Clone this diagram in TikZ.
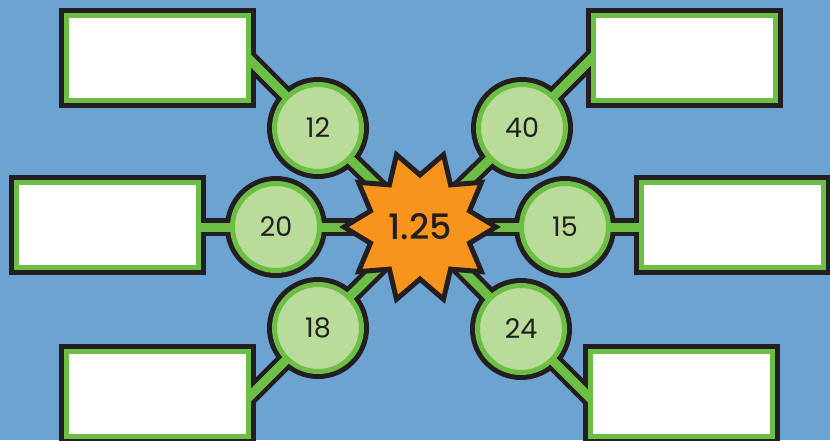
\documentclass[tikz,border=0pt]{standalone}
\usepackage{fontspec}
\newfontfamily\numfont{Poppins}
\newfontfamily\burstfont{Poppins Medium}
\usetikzlibrary{calc,shapes.geometric}

\definecolor{bgblue}{HTML}{6CA3D1}
\definecolor{ink}{HTML}{231F20}
\definecolor{leaf}{HTML}{6DBE45}
\definecolor{pale}{HTML}{B9DC9A}
\definecolor{burst}{HTML}{F7941D}

\tikzset{
  panelback/.style={rectangle, inner sep=0pt, minimum width=197pt, minimum height=100pt, fill=ink},
  panelface/.style={rectangle, inner sep=0pt, minimum width=182pt, minimum height=85pt, fill=white, draw=leaf, line width=5pt},
  discback/.style={circle, inner sep=0pt, minimum size=102pt, fill=ink},
  discface/.style={circle, inner sep=0pt, minimum size=87pt, fill=pale, draw=leaf, line width=5pt,
                   font=\numfont\fontsize{27}{27}\selectfont, text=ink},
  linkout/.style={draw=ink, line width=18pt},
  linkin/.style={draw=leaf, line width=9pt},
  burststar/.style={star, star points=10, star point ratio=1.46, minimum size=152pt, inner sep=0pt,
                    shape border rotate=18, fill=burst, draw=ink, line width=5pt, miter limit=10,
                    font=\burstfont\fontsize{35}{35}\selectfont, text=ink}
}

\begin{document}
\begin{tikzpicture}[x=1pt, y=-1pt]
  % canvas
  \fill[bgblue] (0,0) rectangle (830,440);
  \useasboundingbox (0,0) rectangle (830,440);
  \clip (0,0) rectangle (830,440);

  % dark outer layer of the answer panels
  \node[panelback] (tlb) at (157.5,58)  {};
  \node[panelback] (trb) at (684,58)    {};
  \node[panelback] (mlb) at (107.5,225) {};
  \node[panelback] (mrb) at (732.5,225) {};
  \node[panelback] (blb) at (157.5,394) {};
  \node[panelback] (brb) at (681,394)   {};

  % dark outer layer of the number discs
  \node[discback] (d12) at (318,128) {};
  \node[discback] (d40) at (522,128) {};
  \node[discback] (d20) at (276,227) {};
  \node[discback] (d15) at (565,227) {};
  \node[discback] (d18) at (318,328) {};
  \node[discback] (d24) at (521,329) {};

  % centre of the burst and free ends of the panel links
  \coordinate (hub) at (420,227);
  \coordinate (e12) at ($(d12)+(-80,-80)$);
  \coordinate (e40) at ($(d40)+(80,-80)$);
  \coordinate (e20) at ($(d20)+(-100,0)$);
  \coordinate (e15) at ($(d15)+(100,0)$);
  \coordinate (e18) at ($(d18)+(-80,80)$);
  \coordinate (e24) at ($(d24)+(80,80)$);

  % links: dark outline, then green core
  \foreach \d/\e in {d12/e12, d40/e40, d20/e20, d15/e15, d18/e18, d24/e24} {
    \draw[linkout] (hub) -- (\d.center) -- (\e);
  }
  \foreach \d/\e in {d12/e12, d40/e40, d20/e20, d15/e15, d18/e18, d24/e24} {
    \draw[linkin] (hub) -- (\d.center) -- (\e);
  }

  % panel faces
  \node[panelface] (tl) at (tlb) {};
  \node[panelface] (tr) at (trb) {};
  \node[panelface] (ml) at (mlb) {};
  \node[panelface] (mr) at (mrb) {};
  \node[panelface] (bl) at (blb) {};
  \node[panelface] (br) at (brb) {};

  % disc faces with the numbers
  \node[discface] (n12) at (d12) {12};
  \node[discface] (n40) at (d40) {40};
  \node[discface] (n20) at (d20) {20};
  \node[discface] (n15) at (d15) {15};
  \node[discface] (n18) at (d18) {18};
  \node[discface] (n24) at (d24) {24};

  % central burst
  \node[burststar] (s) at (hub) {1.25};
\end{tikzpicture}
\end{document}
